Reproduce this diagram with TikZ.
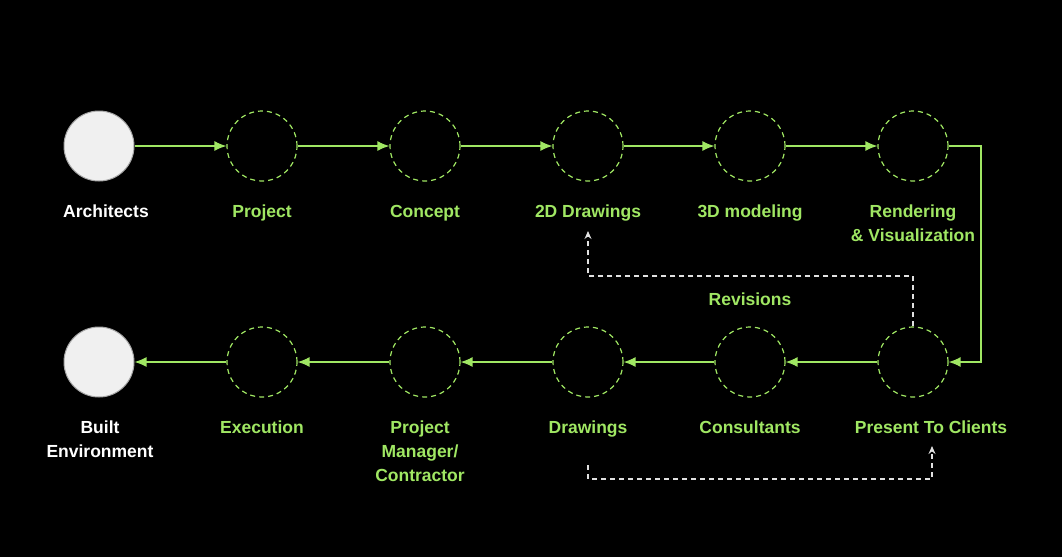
\documentclass[tikz,border=0pt]{standalone}
\usepackage{fontspec}
\setmainfont{Liberation Sans}
\usetikzlibrary{arrows.meta}
\definecolor{lg}{HTML}{A0E763}
\definecolor{wf}{HTML}{F0F0F0}
\definecolor{dl}{HTML}{E0E0E0}
\tikzset{
  endpt/.style={circle,draw=gray!70,fill=wf,line width=1pt,minimum size=70pt,inner sep=0pt},
  stage/.style={circle,draw=lg,dash pattern=on 5pt off 4pt,line width=1.2pt,minimum size=70pt,inner sep=0pt},
  lab/.style={font=\fontsize{17.5}{24}\selectfont\bfseries,text=lg,align=center,inner sep=0pt,anchor=center},
  blab/.style={lab,anchor=base},
  wlab/.style={lab,text=white},
  flow/.style={draw=lg,line width=1.4pt,-{Latex[length=12pt,width=10pt]}},
  rev/.style={draw=dl,line width=1.3pt,dash pattern=on 5pt off 4pt,-{Stealth[length=8pt,width=7pt]}},
}
\begin{document}
\begin{tikzpicture}[x=1pt,y=-1pt]
\fill[black] (0,0) rectangle (1062,557);
\useasboundingbox (0,0) rectangle (1062,557);
% top row
\node[endpt] (arch) at (99,146) {};
\node[stage] (proj) at (262,146) {};
\node[stage] (conc) at (425,146) {};
\node[stage] (twod) at (588,146) {};
\node[stage] (thrd) at (750,146) {};
\node[stage] (rend) at (913,146) {};
% bottom row
\node[endpt] (built) at (99,362) {};
\node[stage] (exec) at (262,362) {};
\node[stage] (pm) at (425,362) {};
\node[stage] (draw) at (588,362) {};
\node[stage] (cons) at (750,362) {};
\node[stage] (pres) at (913,362) {};
% labels
\node[blab,text=white] (larch) at (106,217.5) {Architects};
\node[blab] (lproj) at (262,217.5) {Project};
\node[blab] (lconc) at (425,217.5) {Concept};
\node[blab] (ltwod) at (588,217.5) {2D Drawings};
\node[blab] (lthrd) at (750,217.5) {3D modeling};
\node[lab] (lrend) at (913,223) {Rendering\\\& Visualization};
\node[wlab] (lbuilt) at (100,439) {Built\\Environment};
\node[blab] (lexec) at (262,433.5) {Execution};
\node[lab] (lpm) at (420,451) {Project\\Manager/\\Contractor};
\node[blab] (ldraw) at (588,433.5) {Drawings};
\node[blab] (lcons) at (750,433.5) {Consultants};
\node[blab] (lpres) at (931,433.5) {Present To Clients};
\node[blab] (lrev) at (750,305.5) {Revisions};
% flow
\draw[flow] (arch) -- (proj);
\draw[flow] (proj) -- (conc);
\draw[flow] (conc) -- (twod);
\draw[flow] (twod) -- (thrd);
\draw[flow] (thrd) -- (rend);
\draw[flow] (rend.east) -| (981,254) |- (pres.east);
\draw[flow] (pres) -- (cons);
\draw[flow] (cons) -- (draw);
\draw[flow] (draw) -- (pm);
\draw[flow] (pm) -- (exec);
\draw[flow] (exec) -- (built);
% revisions
\coordinate (revend) at (588,231);
\draw[rev] (pres.north) -- (913,276) -| (revend);
\coordinate (r2s) at (588,465);
\coordinate (r2e) at (932,446);
\draw[rev] (r2s) |- (760,479) -| (r2e);
\end{tikzpicture}
\end{document}
